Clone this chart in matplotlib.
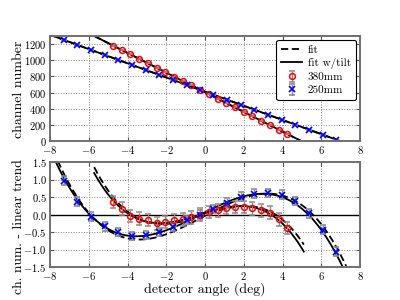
import numpy as np
import matplotlib
matplotlib.use('Agg')
import matplotlib.pyplot as plt
from matplotlib.lines import Line2D

plt.rcParams['font.family'] = ['cmr10', 'DejaVu Serif']
plt.rcParams['mathtext.fontset'] = 'cm'
plt.rcParams['axes.formatter.use_mathtext'] = True
plt.rcParams['axes.unicode_minus'] = True

# ---- data ----
angle_380 = [-4.75, -4.30, -3.85, -3.40, -2.95, -2.50, -2.05, -1.60, -1.15, -0.70, -0.25,
             0.20, 0.65, 1.10, 1.55, 2.00, 2.45, 2.90, 3.35, 3.80, 4.25]
chan_380 = [1181.5, 1126.7, 1071.8, 1017.1, 962.3, 907.6, 852.9, 798.3, 743.6, 689.0, 634.4,
            579.9, 525.2, 470.6, 415.9, 361.3, 306.6, 251.8, 197.0, 142.2, 87.3]
resid_380 = [0.355, 0.17, -0.04, -0.115, -0.16, -0.25, -0.21, -0.16, -0.14, -0.08, 0.0,
             0.07, 0.12, 0.19, 0.21, 0.21, 0.18, 0.12, 0.05, -0.14, -0.38]
err_380 = [0.18] * 21

angle_250 = [-7.30, -6.59, -5.89, -5.18, -4.48, -3.77, -3.07, -2.36, -1.66, -0.95, -0.25,
             0.43, 1.13, 1.84, 2.54, 3.25, 3.95, 4.66, 5.36, 6.07, 6.78]
chan_250 = [1253.0, 1190.2, 1128.3, 1065.8, 1004.2, 941.8, 880.5, 818.3, 757.0, 694.9, 633.8,
            574.3, 513.0, 451.0, 389.7, 327.4, 266.0, 203.5, 141.8, 79.1, 16.1]
resid_250 = [0.97, 0.37, -0.06, -0.34, -0.50, -0.62, -0.58, -0.50, -0.36, -0.16, 0.0,
             0.16, 0.34, 0.51, 0.60, 0.62, 0.57, 0.39, 0.03, -0.43, -1.06]
err_250 = [0.12] * 21

# linear trend parameters (pivot angle, pivot channel, slopes)
pivot_angle = -0.23
pivot_chan = 632.0
slope_380 = -121.5
slope_250 = -87.7

# fit residual polynomials (highest power first) and their angle ranges
fit_380 = [-0.013, -0.00149, 0.17889, -0.00835]
fit_380_tilt = [-0.013, -0.00949, 0.17089, 0.03965]
fit_250 = [-0.009007, -0.002226, 0.2969, -0.0348]
fit_250_tilt = [-0.0088, -0.00748, 0.2778, 0.0642]
range_380 = [-5.72, 5.10]
range_250 = [-8.6, 8.0]

fig, (ax1, ax2) = plt.subplots(2, 1, figsize=(4, 3), dpi=100)

def trend(x, slope):
    return pivot_chan + slope * (np.asarray(x) - pivot_angle)

xr380 = np.linspace(range_380[0], range_380[1], 300)
xr250 = np.linspace(range_250[0], range_250[1], 300)

ekw = dict(ecolor='#8c8c8c', elinewidth=1.0, capsize=2.3, capthick=1.0, linestyle='none')
dash = (0, (4, 2))

for ax in (ax1, ax2):
    ax.grid(True, linestyle=':', color='#808080', linewidth=0.7)
    ax.set_axisbelow(True)
    for s in ax.spines.values():
        s.set_color('#707070')
        s.set_linewidth(1.4)
    ax.tick_params(direction='in', top=True, right=True, labelsize=7.6, length=3,
                   color='#505050', pad=2.5)
    ax.set_xlim(-8, 8)
    ax.set_xticks(np.arange(-8, 9, 2))

# top panel
for fitp, tilt, xr, slope in ((fit_380, fit_380_tilt, xr380, slope_380),
                              (fit_250, fit_250_tilt, xr250, slope_250)):
    ax1.plot(xr, trend(xr, slope) + np.polyval(fitp, xr), color='k', lw=1.3, linestyle=dash)
    ax1.plot(xr, trend(xr, slope) + np.polyval(tilt, xr), color='k', lw=1.3)
e1 = ax1.errorbar(angle_380, chan_380, yerr=err_380, marker='o', ms=4.2, mfc='none',
                  mec='red', mew=1.1, **ekw)
e2 = ax1.errorbar(angle_250, chan_250, yerr=err_250, marker='x', ms=4.0, mec='blue',
                  mew=1.2, **ekw)
ax1.set_ylim(0, 1300)
ax1.set_yticks(np.arange(0, 1300, 200))
ax1.set_ylabel('channel number', fontsize=10)
ax1.yaxis.set_label_coords(-0.082, 0.49)

handles = [Line2D([], [], color='k', lw=1.3, linestyle=dash),
           Line2D([], [], color='k', lw=1.3), e1, e2]
leg = ax1.legend(handles, ['fit', 'fit w/tilt', '380mm', '250mm'], loc='upper right',
                 fontsize=8, fancybox=True, framealpha=1, edgecolor='k',
                 handlelength=1.9, handletextpad=0.5, borderpad=0.45,
                 borderaxespad=0.35, labelspacing=0.3, numpoints=1)
leg.get_frame().set_linewidth(0.8)

# bottom panel
ax2.axhline(0, color='k', lw=1.0)
for fitp, tilt, xr in ((fit_380, fit_380_tilt, xr380), (fit_250, fit_250_tilt, xr250)):
    ax2.plot(xr, np.polyval(fitp, xr), color='k', lw=1.3, linestyle=dash)
    ax2.plot(xr, np.polyval(tilt, xr), color='k', lw=1.3)
ax2.errorbar(angle_380, resid_380, yerr=err_380, marker='o', ms=4.2, mfc='none',
             mec='red', mew=1.1, **ekw)
ax2.errorbar(angle_250, resid_250, yerr=err_250, marker='x', ms=4.0, mec='blue',
             mew=1.2, **ekw)
ax2.set_ylim(-1.5, 1.5)
ax2.set_yticks(np.arange(-1.5, 1.51, 0.5))
ax2.yaxis.set_major_formatter(matplotlib.ticker.FormatStrFormatter('$%.1f$'))
ax2.set_ylabel('ch. num. - linear trend', fontsize=9.8)
ax2.yaxis.set_label_coords(-0.082, 0.38)
ax2.set_xlabel('detector angle (deg)', fontsize=10)
ax2.xaxis.set_label_coords(0.5, -0.145)

fig.savefig('out.png', dpi=100)
